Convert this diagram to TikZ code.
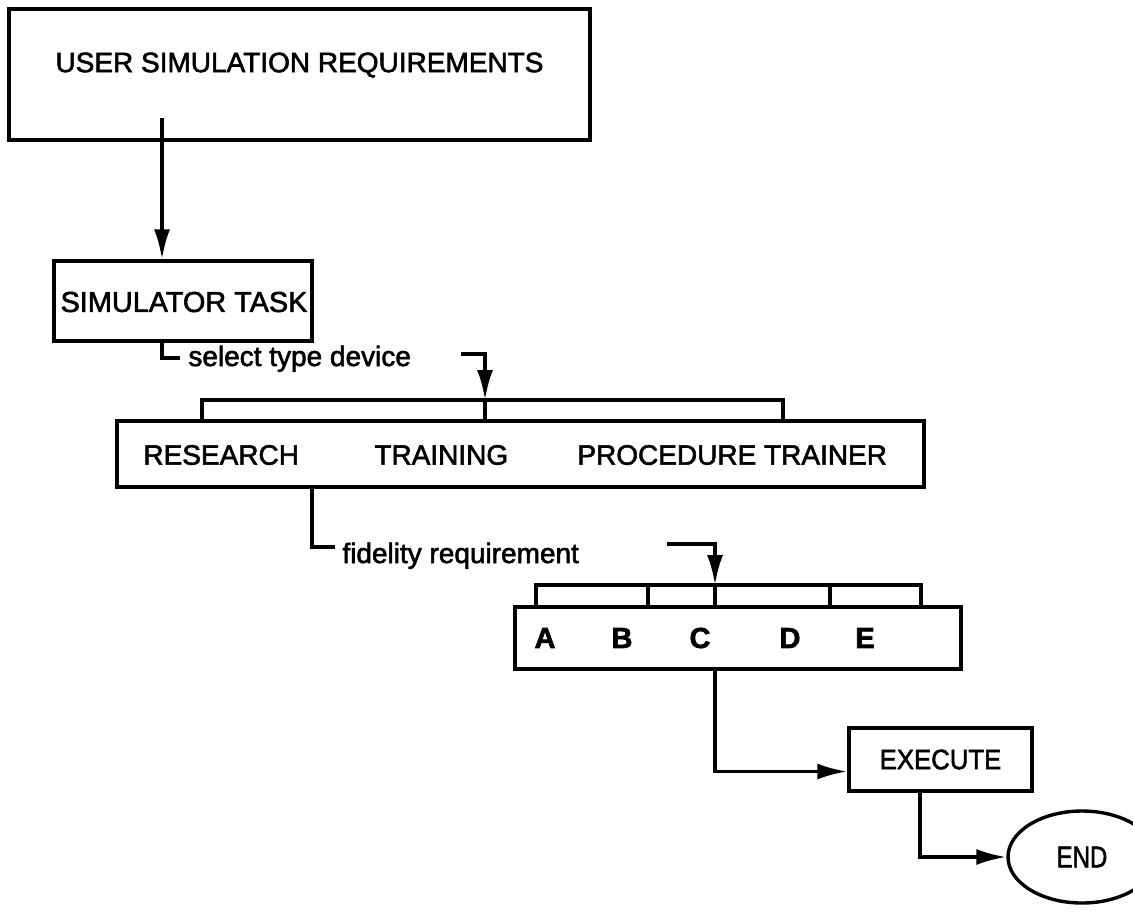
\documentclass[tikz,border=0pt]{standalone}
\usepackage{fontspec}
\usepackage{graphicx}
\setmainfont{Liberation Sans}[FakeBold=2]
\usetikzlibrary{arrows.meta,shapes.geometric}
\begin{document}
\begin{tikzpicture}[x=0.5pt,y=-0.5pt,
  line/.style={line width=1.7pt},
  box/.style={draw,line width=1.7pt,inner sep=0pt},
  txt/.style={inner sep=0pt,font=\fontsize{14}{16}\selectfont},
  btxt/.style={inner sep=0pt,font=\fontsize{14.5}{16}\selectfont\bfseries},
  arr/.style={line width=1.7pt,-{Latex[length=15pt,width=8pt]}}]
\useasboundingbox (0,0) rectangle (1133,915);

% boxes
\node[box,minimum width=290.5pt,minimum height=65.5pt] (usr) at (299.5,74.5) {};
\node[txt] (usrt) at (299.5,65) {USER SIMULATION REQUIREMENTS};

\node[box,minimum width=129pt,minimum height=40pt] (sim) at (183,301) {};
\node[txt] (simt) at (184,302) {\scalebox{1.03}{SIMULATOR TASK}};

\node[box,minimum width=403.5pt,minimum height=33pt] (dev) at (520.5,454) {};
\node[txt,anchor=west] (res) at (143,455) {RESEARCH};
\node[txt,anchor=west] (trn) at (374,455) {TRAINING};
\node[txt,anchor=west] (pro) at (577,455) {PROCEDURE TRAINER};

\node[box,minimum width=223pt,minimum height=31pt] (fid) at (738,638) {};
\node[btxt] (la) at (545,638) {A};
\node[btxt] (lb) at (622,638) {B};
\node[btxt] (lc) at (700,638) {C};
\node[btxt] (ld) at (790,638) {D};
\node[btxt] (le) at (865,638) {E};

\node[box,minimum width=91.5pt,minimum height=31.5pt] (exe) at (940.5,759.5)
  {\fontsize{14}{16}\selectfont\scalebox{0.92}[1]{EXECUTE}};
\node[draw,ellipse,line width=1.7pt,minimum width=74pt,minimum height=46pt,inner sep=0pt]
  (endn) at (1082,857) {\fontsize{15}{16}\selectfont\scalebox{0.8}[1]{END}};

% labels
\node[txt,anchor=base west] (sel) at (188,366) {select type device};
\node[txt,anchor=base west] (fdl) at (342,563) {fidelity requirement};

% connectors
\coordinate (t0) at (162,118);
\draw[arr] (t0) -- (t0 |- sim.north);

\coordinate (c1) at (162,358);
\coordinate (c1e) at (180,358);
\draw[line] (c1 |- sim.south) -- (c1) -- (c1e);

\coordinate (a1) at (461,354);
\coordinate (a1t) at (485,400);
\draw[arr] (a1) -| (a1t);
\draw[line] (a1t) -- (a1t |- dev.north);
\coordinate (bl) at (202,400);
\coordinate (br) at (783,400);
\draw[line] (bl |- dev.north) -- (bl) -- (br) -- (br |- dev.north);

\coordinate (c2) at (312,547);
\coordinate (c2e) at (335,547);
\draw[line] (c2 |- dev.south) -- (c2) -- (c2e);

\coordinate (a2) at (667,544);
\coordinate (a2t) at (715,585);
\draw[arr] (a2) -| (a2t);
\draw[line] (a2t) -- (a2t |- fid.north);
\coordinate (fl) at (536,585);
\coordinate (fr) at (921,585);
\draw[line] (fl |- fid.north) -- (fl) -- (fr) -- (fr |- fid.north);
\coordinate (d1) at (648,585);
\coordinate (d2) at (830,585);
\draw[line] (d1) -- (d1 |- fid.north);
\draw[line] (d2) -- (d2 |- fid.north);

\coordinate (c3) at (715,700);
\draw[arr] (c3 |- fid.south) |- ([yshift=-6pt]exe.west);
\coordinate (c4) at (920,800);
\draw[arr] (c4 |- exe.south) |- (endn.west);
\end{tikzpicture}
\end{document}
